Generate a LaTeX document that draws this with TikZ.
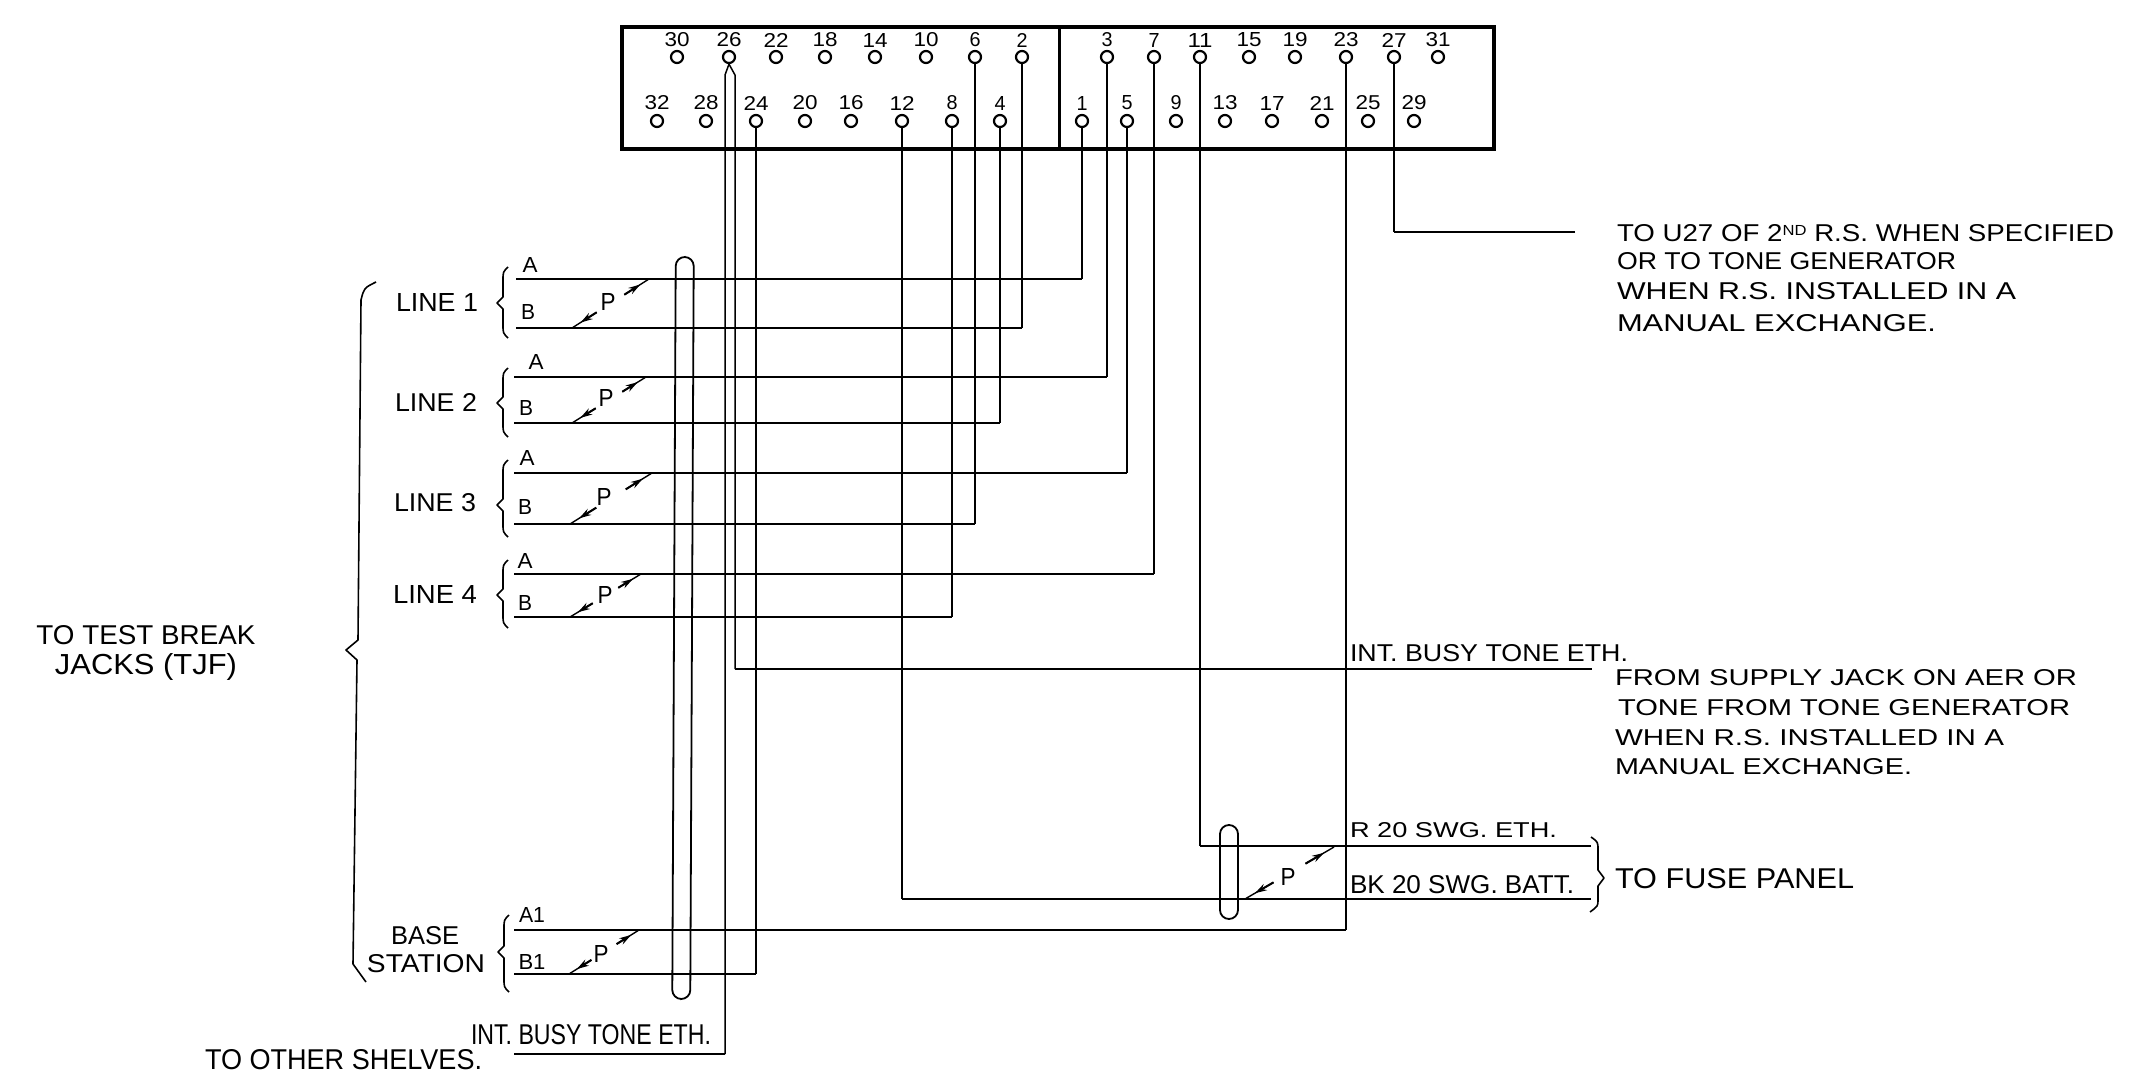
\documentclass[tikz,border=0pt]{standalone}
\usepackage{fontspec}
\usepackage{graphicx}
\setmainfont{Liberation Sans}
\usetikzlibrary{arrows.meta,calc}
% real text fitted to the measured width and cap height of the hand lettering
\newcommand{\fitt}[3]{\resizebox{#1pt}{#2pt}{#3}}
\newcommand{\supnd}{\raisebox{.25em}{\scalebox{.6}{ND}}}
\tikzset{
  lbl/.style={inner sep=0pt,outer sep=0pt,anchor=center},
  lblw/.style={inner sep=0pt,outer sep=0pt,anchor=west},
  pin/.style={circle,draw=black,line width=2.2pt,minimum size=12pt,inner sep=0pt,fill=white},
  vwire/.style={draw=black,line width=1.5pt,line join=miter},
  hwire/.style={draw=black,line width=2.5pt,line cap=butt},
  frame/.style={draw=black,line width=4pt},
  loopring/.style={draw=black,line width=1.8pt,rounded corners=9pt,inner sep=0pt,minimum width=18pt},
  brace/.style={draw=black,line width=1.6pt,line join=round},
  twistline/.style={draw=black,line width=1.4pt},
  twisttip/.style={draw=black,line width=2pt,-{Stealth[length=12pt,width=7pt]}}
}
% horizontal wire from a named start to the pin, then thin riser into the pin
\newcommand{\wire}[2]{%
  \draw[vwire] (#1 -| #2.south) -- (#2.south);
  \draw[hwire] (#1) -- (#1 -| #2.south);}
% twisted-pair mark between two named points, broken around the P
\newcommand{\twist}[4]{%
  \coordinate (#1t) at #2; \coordinate (#1b) at #3;
  \node[lbl] (#1P) at #4 {\fitt{15}{17}{P}};
  \coordinate (#1u) at ($(#1b)!0.68!(#1t)$);
  \coordinate (#1l) at ($(#1b)!0.32!(#1t)$);
  \draw[twistline] (#1u) -- (#1t);
  \draw[twistline] (#1l) -- (#1b);
  \draw[twisttip] (#1u) -- ($(#1u)!0.65!(#1t)$);
  \draw[twisttip] (#1l) -- ($(#1l)!0.65!(#1b)$);}
\newcommand{\leftbrace}[4]{% x, top, tip, bottom
  \draw[brace] (#1+5,#2) .. controls (#1,#2+5) .. (#1,#2+13) -- (#1,#3-6) -- (#1-6,#3) -- (#1,#3+6) -- (#1,#4-13) .. controls (#1,#4-5) .. (#1+5,#4);}
\begin{document}
\begin{tikzpicture}[x=1pt,y=-1pt]
\useasboundingbox[fill=white] (0,0) rectangle (2145,1092);

% terminal block
\node[frame,rectangle,minimum width=872pt,minimum height=122pt,inner sep=0pt,anchor=north west] (block) at (620,25) {};
\coordinate (divtop) at (1059,25);
\coordinate (divbot) at (1059,147);
\draw[line width=3pt] (divtop) -- (divbot);

\foreach \n/\x in {30/677,26/729,22/776,18/825,14/875,10/926,6/975,2/1022,3/1107,7/1154,11/1200,15/1249,19/1295,23/1346,27/1394,31/1438}{
  \node[pin] (p\n) at (\x,57) {};
  \node[lbl] (t\n) at (\x,40) {\ifnum\n<10 \fitt{11}{14}{\n}\else\fitt{25}{14}{\n}\fi};
}
\foreach \n/\x in {32/657,28/706,24/756,20/805,16/851,12/902,8/952,4/1000,1/1082,5/1127,9/1176,13/1225,17/1272,21/1322,25/1368,29/1414}{
  \node[pin] (p\n) at (\x,121) {};
  \node[lbl] (t\n) at (\x,103) {\ifnum\n<10 \fitt{11}{14}{\n}\else\fitt{25}{14}{\n}\fi};
}

% line starts
\coordinate (a1) at (516,279); \coordinate (b1) at (516,328);
\coordinate (a2) at (514,377); \coordinate (b2) at (514,423);
\coordinate (a3) at (514,473); \coordinate (b3) at (514,524);
\coordinate (a4) at (514,574); \coordinate (b4) at (514,617);
\coordinate (a5) at (514,930); \coordinate (b5) at (514,974);
\coordinate (r)  at (1197,846); \coordinate (rend) at (1591,846);
\coordinate (bk) at (1591,899);
\coordinate (busyout) at (1592,669);
\coordinate (busylow) at (514,1054);
\coordinate (busyr) at (735,75);
\coordinate (busyl) at (725,75);
\coordinate (tone) at (1575,232);

\wire{a1}{p1} \wire{b1}{p2} \wire{a2}{p3} \wire{b2}{p4}
\wire{a3}{p5} \wire{b3}{p6} \wire{a4}{p7} \wire{b4}{p8}
\wire{a5}{p23} \wire{b5}{p24}
\wire{bk}{p12}
\wire{rend}{p11}
\wire{tone}{p27}

% busy-tone pair off pin 26
\draw[vwire] (p26.south) -- (busyr) -- (busyr |- busyout);
\draw[hwire] (busyr |- busyout) -- (busyout);
\draw[vwire] (p26.south) -- (busyl) -- (busyl |- busylow);
\draw[hwire] (busyl |- busylow) -- (busylow);

% cable ties
\node[loopring,minimum height=742pt,rotate=-0.27] (ring1) at (683,628) {};
\node[loopring,minimum height=94pt] (ring2) at (1229,872) {};

% twist marks
\twist{tw1}{(649,279)}{(572,328)}{(608,302)}
\twist{tw2}{(646,377)}{(572,423)}{(606,398)}
\twist{tw3}{(652,473)}{(570,524)}{(604,497)}
\twist{tw4}{(641,574)}{(570,617)}{(605,595)}
\twist{tw5}{(639,930)}{(569,974)}{(601,954)}
\twist{tw6}{(1334,847)}{(1245,899)}{(1288,877)}

% small braces
\leftbrace{503}{267}{303}{338}
\leftbrace{503}{368}{403}{437}
\leftbrace{503}{460}{505}{537}
\leftbrace{503}{560}{595}{628}
\leftbrace{504}{915}{952}{992}
% big brace
\draw[brace] (376,282) .. controls (364,288) .. (361,300) -- (358,640) -- (346,650) -- (357,660) -- (353,964) -- (366,982);
% right brace
\draw[brace] (1591,837) .. controls (1598,842) .. (1598,850) -- (1598,870) -- (1604,878) -- (1598,886) -- (1598,900) .. controls (1598,906) .. (1590,912);

% wire letters
\node[lbl] (la1) at (530,265) {\fitt{15}{15}{A}};
\node[lbl] (lb1) at (528,312) {\fitt{14}{15}{B}};
\node[lbl] (la2) at (536,362) {\fitt{15}{15}{A}};
\node[lbl] (lb2) at (526,408) {\fitt{14}{15}{B}};
\node[lbl] (la3) at (527,458) {\fitt{15}{15}{A}};
\node[lbl] (lb3) at (525,507) {\fitt{14}{15}{B}};
\node[lbl] (la4) at (525,561) {\fitt{15}{15}{A}};
\node[lbl] (lb4) at (525,603) {\fitt{14}{15}{B}};
\node[lbl] (la5) at (532,915) {\fitt{26}{15}{A1}};
\node[lbl] (lb5) at (532,962) {\fitt{27}{15}{B1}};

% group labels
\node[lbl] (l1) at (437,302) {\fitt{82}{18}{LINE 1}};
\node[lbl] (l2) at (436,402) {\fitt{82}{18}{LINE 2}};
\node[lbl] (l3) at (435,503) {\fitt{82}{18}{LINE 3}};
\node[lbl] (l4) at (435,594) {\fitt{84}{18}{LINE 4}};
\node[lbl] (base1) at (425,936) {\fitt{68}{18}{BASE}};
\node[lbl] (base2) at (426,964) {\fitt{118}{18}{STATION}};
\node[lbl] (jack1) at (146,635) {\fitt{219}{19}{TO TEST BREAK}};
\node[lbl] (jack2) at (146,667) {\fitt{182}{21}{JACKS (TJF)}};
\node[lblw] (busy2) at (471,1035) {\fitt{240}{20}{INT. BUSY TONE ETH.}};
\node[lblw] (shelves) at (205,1060) {\fitt{277}{20}{TO OTHER SHELVES.}};

% right-hand notes
\node[lblw] (n1) at (1617,233) {\fitt{497}{17}{TO U27 OF 2\supnd{} R.S. WHEN SPECIFIED}};
\node[lblw] (n2) at (1617,261) {\fitt{339}{17}{OR TO TONE GENERATOR}};
\node[lblw] (n3) at (1617,291) {\fitt{399}{17}{WHEN R.S. INSTALLED IN A}};
\node[lblw] (n4) at (1617,323) {\fitt{319}{17}{MANUAL EXCHANGE.}};
\node[lblw] (busy1) at (1350,653) {\fitt{278}{17}{INT. BUSY TONE ETH.}};
\node[lblw] (f1) at (1615,678) {\fitt{462}{16}{FROM SUPPLY JACK ON AER OR}};
\node[lblw] (f2) at (1618,708) {\fitt{452}{16}{TONE FROM TONE GENERATOR}};
\node[lblw] (f3) at (1615,738) {\fitt{389}{16}{WHEN R.S. INSTALLED IN A}};
\node[lblw] (f4) at (1615,767) {\fitt{297}{16}{MANUAL EXCHANGE.}};
\node[lblw] (r20) at (1350,830) {\fitt{207}{15}{R 20 SWG. ETH.}};
\node[lblw] (bk20) at (1350,885) {\fitt{224}{18}{BK 20 SWG. BATT.}};
\node[lblw] (fuse) at (1615,879) {\fitt{239}{20}{TO FUSE PANEL}};
\end{tikzpicture}
\end{document}
